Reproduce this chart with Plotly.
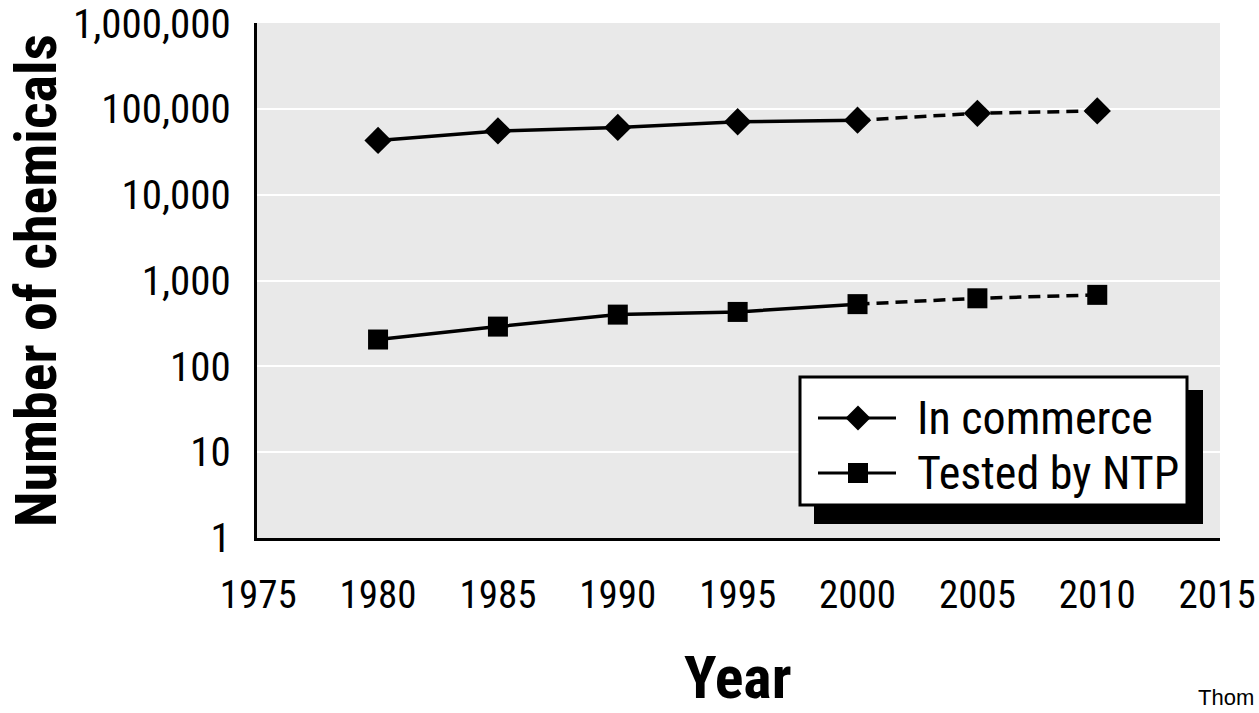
import plotly.graph_objects as go

# ---------------- data ----------------
years = [1980, 1985, 1990, 1995, 2000, 2005, 2010]
in_commerce = [43000, 55500, 61000, 71000, 74000, 89000, 95000]
tested_by_ntp = [205, 290, 400, 430, 530, 620, 680]
projected_from = 2000  # values after this year are drawn dashed (projection)

y_tickvals = [1, 10, 100, 1000, 10000, 100000, 1000000]
y_ticktext = ["1", "10", "100", "1,000", "10,000", "100,000", "1,000,000"]
x_tickvals = [1975, 1980, 1985, 1990, 1995, 2000, 2005, 2010, 2015]

series_names = ["In commerce", "Tested by NTP"]
series_symbols = ["diamond", "square"]

# ---------------- layout constants ----------------
W, H = 1259, 713
L, R, T, B = 257, 39, 23, 175
PW, PH = W - L - R, H - T - B
NARROW = "Roboto Condensed, Liberation Sans Narrow, Arial Narrow, DejaVu Sans Condensed, sans-serif"


def px(x):
    return (x - L) / PW


def py(y):
    return (H - B - y) / PH


fig = go.Figure()

for name, vals, sym, msize in zip(series_names, [in_commerce, tested_by_ntp], series_symbols, [21, 20]):
    xs_solid = [x for x in years if x <= projected_from]
    ys_solid = [v for x, v in zip(years, vals) if x <= projected_from]
    xs_dash = [x for x in years if x >= projected_from]
    ys_dash = [v for x, v in zip(years, vals) if x >= projected_from]
    fig.add_trace(go.Scatter(x=xs_dash, y=ys_dash, mode="lines", name=name + " (projected)",
                             line=dict(color="black", width=3.5, dash="12px,7px"),
                             showlegend=False, hoverinfo="skip"))
    fig.add_trace(go.Scatter(x=xs_solid, y=ys_solid, mode="lines", name=name,
                             line=dict(color="black", width=3.5), showlegend=False, hoverinfo="skip"))
    fig.add_trace(go.Scatter(x=years, y=vals, mode="markers", name=name,
                             marker=dict(symbol=sym, size=msize, color="black",
                                         line=dict(width=0)),
                             showlegend=False))

# ---------------- manual legend (decoration) ----------------
shapes = []
shapes.append(dict(type="rect", xref="paper", yref="paper",
                   x0=px(814), x1=px(1203), y0=py(524), y1=py(390),
                   fillcolor="black", line=dict(width=0), layer="above"))
shapes.append(dict(type="rect", xref="paper", yref="paper",
                   x0=px(800), x1=px(1187), y0=py(505), y1=py(377),
                   fillcolor="white", line=dict(color="black", width=3), layer="above"))
row_y = [418, 473]
for ry, sym in zip(row_y, series_symbols):
    shapes.append(dict(type="line", xref="paper", yref="paper",
                       x0=px(818), x1=px(896), y0=py(ry), y1=py(ry),
                       line=dict(color="black", width=3), layer="above"))
    cx = 858
    if sym == "diamond":
        d = 12.5
        path = (f"M{px(cx - d)},{py(ry)} L{px(cx)},{py(ry - d)} "
                f"L{px(cx + d)},{py(ry)} L{px(cx)},{py(ry + d)} Z")
        shapes.append(dict(type="path", xref="paper", yref="paper", path=path,
                           fillcolor="black", line=dict(width=0), layer="above"))
    else:
        s = 10
        shapes.append(dict(type="rect", xref="paper", yref="paper",
                           x0=px(cx - s), x1=px(cx + s), y0=py(ry + s), y1=py(ry - s),
                           fillcolor="black", line=dict(width=0), layer="above"))

annotations = []
for ry, name in zip(row_y, series_names):
    annotations.append(dict(xref="paper", yref="paper", x=px(915), y=py(ry),
                            text=name, showarrow=False, xanchor="left", yanchor="middle",
                            font=dict(family=NARROW, size=46, color="black")))

annotations.append(dict(xref="paper", yref="paper", x=px(36), y=py(281),
                        text="<b>Number of chemicals</b>", textangle=-90, showarrow=False,
                        xanchor="center", yanchor="middle",
                        font=dict(family=NARROW, size=58, color="black")))
annotations.append(dict(xref="paper", yref="paper", x=px(738), y=py(678),
                        text="<b>Year</b>", showarrow=False, xanchor="center", yanchor="middle",
                        font=dict(family=NARROW, size=60, color="black")))
annotations.append(dict(xref="paper", yref="paper", x=px(1256), y=py(698),
                        text="Thom", showarrow=False, xanchor="right", yanchor="middle",
                        font=dict(family="Liberation Sans, Arial, sans-serif", size=22, color="black")))

fig.update_layout(
    width=W, height=H,
    margin=dict(l=L, r=R, t=T, b=B, pad=0, autoexpand=False),
    paper_bgcolor="white",
    plot_bgcolor="#e9e9e9",
    showlegend=False,
    shapes=shapes,
    annotations=annotations,
    xaxis=dict(range=[1974.95, 2015.12], tickvals=x_tickvals, showgrid=False, zeroline=False,
               showline=True, linecolor="black", linewidth=3, ticks="", automargin=False,
               ticklabelstandoff=20, ticklabeloverflow="allow",
               tickfont=dict(family=NARROW, size=39, color="black")),
    yaxis=dict(type="log", range=[-0.003, 6.003], tickvals=y_tickvals, ticktext=y_ticktext,
               showgrid=True, gridcolor="white", gridwidth=2, zeroline=False,
               showline=True, linecolor="black", linewidth=3, ticks="", automargin=False,
               ticklabelstandoff=15, ticklabeloverflow="allow",
               tickfont=dict(family=NARROW, size=41, color="black")),
)

fig.write_html("out.html", config={"displayModeBar": False},
               post_script="document.body.style.margin='0';document.body.style.overflow='hidden';")
